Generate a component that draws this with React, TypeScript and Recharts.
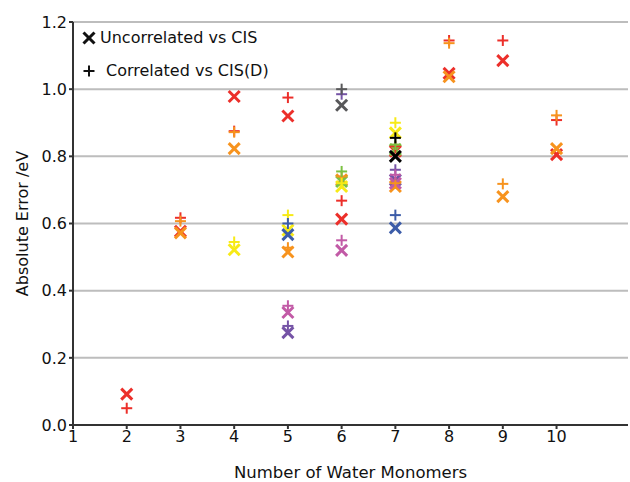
import { ScatterChart, Scatter, XAxis, YAxis, CartesianGrid, Label } from 'recharts'

// [number of water monomers, absolute error / eV]
const redUncorrelated: [number, number][] = [
  [2, 0.092], [3, 0.577], [4, 0.978], [5, 0.92], [6, 0.613], [7, 0.815], [8, 1.047], [9, 1.085], [10, 0.805],
]
const redCorrelated: [number, number][] = [
  [2, 0.05], [3, 0.617], [4, 0.875], [5, 0.975], [6, 0.668], [7, 0.83], [8, 1.145], [9, 1.145], [10, 0.908],
]
const orangeUncorrelated: [number, number][] = [
  [3, 0.572], [4, 0.823], [5, 0.515], [6, 0.73], [7, 0.71], [8, 1.037], [9, 0.68], [10, 0.823],
]
const orangeCorrelated: [number, number][] = [
  [3, 0.607], [4, 0.872], [5, 0.528], [6, 0.74], [7, 0.72], [8, 1.137], [9, 0.718], [10, 0.922],
]
const yellowUncorrelated: [number, number][] = [[4, 0.522], [5, 0.58], [6, 0.71], [7, 0.87]]
const yellowCorrelated: [number, number][] = [[4, 0.545], [5, 0.625], [6, 0.72], [7, 0.9]]
const greenUncorrelated: [number, number][] = [[6, 0.725], [7, 0.82]]
const greenCorrelated: [number, number][] = [[6, 0.755], [7, 0.835]]
const blueUncorrelated: [number, number][] = [[5, 0.567], [7, 0.587]]
const blueCorrelated: [number, number][] = [[5, 0.6], [7, 0.625]]
const purpleUncorrelated: [number, number][] = [[5, 0.275], [7, 0.73]]
const purpleCorrelated: [number, number][] = [[5, 0.295], [6, 0.985], [7, 0.76]]
const pinkUncorrelated: [number, number][] = [[5, 0.335], [6, 0.52], [7, 0.72]]
const pinkCorrelated: [number, number][] = [[5, 0.355], [6, 0.55], [7, 0.745]]
const greyUncorrelated: [number, number][] = [[6, 0.952]]
const greyCorrelated: [number, number][] = [[6, 1.0]]
const blackUncorrelated: [number, number][] = [[7, 0.8]]
const blackCorrelated: [number, number][] = [[7, 0.855]]

const xTicks = [1, 2, 3, 4, 5, 6, 7, 8, 9, 10]
const yTicks = [0, 0.2, 0.4, 0.6, 0.8, 1.0, 1.2]

const groups = [
  { name: 'red', color: '#ec2f2a', uncorr: redUncorrelated, corr: redCorrelated },
  { name: 'orange', color: '#f7931e', uncorr: orangeUncorrelated, corr: orangeCorrelated },
  { name: 'yellow', color: '#f7ea16', uncorr: yellowUncorrelated, corr: yellowCorrelated },
  { name: 'green', color: '#7cc242', uncorr: greenUncorrelated, corr: greenCorrelated },
  { name: 'blue', color: '#3c5ca8', uncorr: blueUncorrelated, corr: blueCorrelated },
  { name: 'purple', color: '#7553a6', uncorr: purpleUncorrelated, corr: purpleCorrelated },
  { name: 'pink', color: '#c25aa6', uncorr: pinkUncorrelated, corr: pinkCorrelated },
  { name: 'grey', color: '#58585a', uncorr: greyUncorrelated, corr: greyCorrelated },
  { name: 'black', color: '#000000', uncorr: blackUncorrelated, corr: blackCorrelated },
]

const toPoints = (pts: [number, number][]) => pts.map(([n, err]) => ({ n, err }))

const font = 'DejaVu Sans'

function Cross(props: any) {
  const { cx, cy, fill } = props
  const r = 5.5
  return (
    <g stroke={fill} strokeWidth={3}>
      <line x1={cx - r} y1={cy - r} x2={cx + r} y2={cy + r} />
      <line x1={cx - r} y1={cy + r} x2={cx + r} y2={cy - r} />
    </g>
  )
}

function Plus(props: any) {
  const { cx, cy, fill } = props
  const r = 5.5
  return (
    <g stroke={fill} strokeWidth={2}>
      <line x1={cx - r} y1={cy} x2={cx + r} y2={cy} />
      <line x1={cx} y1={cy - r} x2={cx} y2={cy + r} />
    </g>
  )
}

export default function App() {
  return (
    <div style={{ position: 'absolute', left: 0, top: 0, width: 630, height: 482, background: '#fff' }}>
      <ScatterChart
        width={630}
        height={482}
        margin={{ top: 22, right: 2, bottom: 0, left: 0 }}
        style={{ fontFamily: font }}
      >
        <CartesianGrid vertical={false} stroke="#bdbdbd" strokeWidth={2} />
        <XAxis
          type="number"
          dataKey="n"
          domain={[1, 11.33]}
          ticks={xTicks}
          allowDataOverflow
          height={57}
          stroke="#333"
          strokeWidth={2}
          tickSize={4}
          tick={{ fill: '#111', fontSize: 16, fontFamily: font }}
        >
          <Label
            value="Number of Water Monomers"
            position="insideBottom"
            offset={4}
            style={{ fill: '#111', fontSize: 16.5, fontFamily: font }}
          />
        </XAxis>
        <YAxis
          type="number"
          dataKey="err"
          domain={[0, 1.2]}
          ticks={yTicks}
          width={73}
          stroke="#333"
          strokeWidth={2}
          tickSize={4}
          tickFormatter={(v: number) => v.toFixed(1)}
          tick={{ fill: '#111', fontSize: 16, fontFamily: font }}
        >
          <Label
            value="Absolute Error /eV"
            angle={-90}
            position="insideLeft"
            offset={22}
            style={{ fill: '#111', fontSize: 16, fontFamily: font, textAnchor: 'middle' }}
          />
        </YAxis>
        {groups.map((g) => (
          <Scatter
            key={g.name + '-u'}
            data={toPoints(g.uncorr)}
            fill={g.color}
            shape={<Cross />}
            isAnimationActive={false}
          />
        ))}
        {groups.map((g) => (
          <Scatter
            key={g.name + '-c'}
            data={toPoints(g.corr)}
            fill={g.color}
            shape={<Plus />}
            isAnimationActive={false}
          />
        ))}
      </ScatterChart>
      <div
        style={{
          position: 'absolute',
          left: 80,
          top: 21,
          fontFamily: font,
          fontSize: 16,
          color: '#111',
          lineHeight: '33px',
        }}
      >
        <div style={{ display: 'flex', alignItems: 'center' }}>
          <svg width={20} height={20}>
            <Cross cx={9} cy={10} fill="#111" />
          </svg>
          <span>Uncorrelated vs CIS</span>
        </div>
        <div style={{ display: 'flex', alignItems: 'center' }}>
          <svg width={26} height={20}>
            <Plus cx={9} cy={10} fill="#111" />
          </svg>
          <span>Correlated vs CIS(D)</span>
        </div>
      </div>
    </div>
  )
}
